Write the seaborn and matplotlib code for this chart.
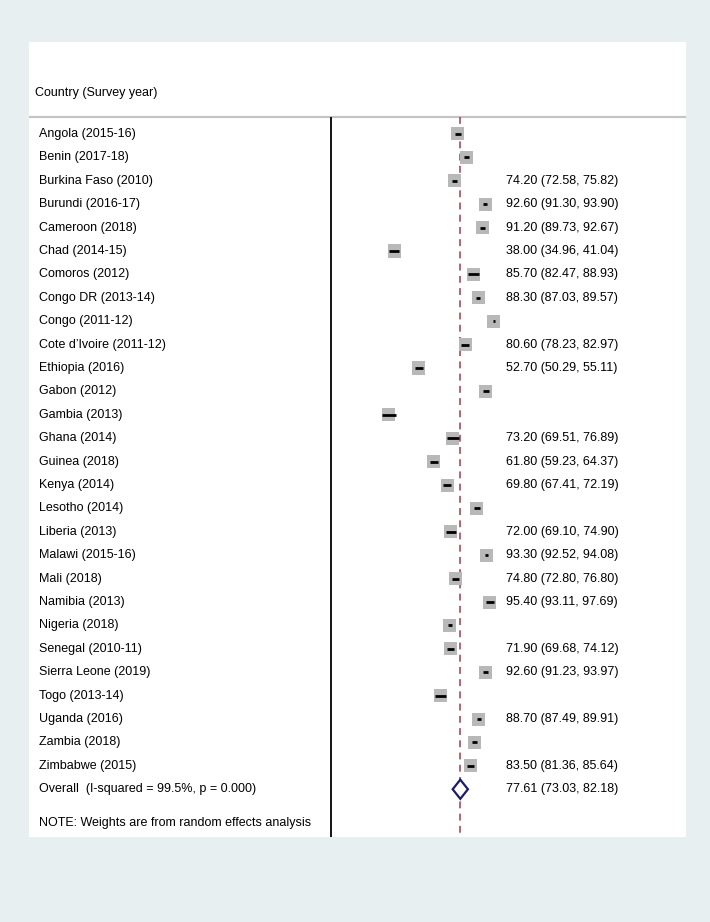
import pandas as pd
import matplotlib.pyplot as plt
import seaborn as sns

countries = [
    "Angola (2015-16)", "Benin (2017-18)", "Burkina Faso (2010)", "Burundi (2016-17)",
    "Cameroon (2018)", "Chad (2014-15)", "Comoros (2012)", "Congo DR (2013-14)",
    "Congo (2011-12)", "Cote d'Ivoire (2011-12)", "Ethiopia (2016)", "Gabon (2012)",
    "Gambia (2013)", "Ghana (2014)", "Guinea (2018)", "Kenya (2014)", "Lesotho (2014)",
    "Liberia (2013)", "Malawi (2015-16)", "Mali (2018)", "Namibia (2013)", "Nigeria (2018)",
    "Senegal (2010-11)", "Sierra Leone (2019)", "Togo (2013-14)", "Uganda (2016)",
    "Zambia (2018)", "Zimbabwe (2015)",
]
est = [76.0, 81.4, 74.20, 92.60, 91.20, 38.00, 85.70, 88.30, 97.8, 80.60, 52.70, 92.8,
       34.8, 73.20, 61.80, 69.80, 87.6, 72.00, 93.30, 74.80, 95.40, 71.4, 71.90, 92.60,
       65.6, 88.70, 86.0, 83.50]
lo = [74.2, 79.8, 72.58, 91.30, 89.73, 34.96, 82.47, 87.03, 97.0, 78.23, 50.29, 91.0,
      30.6, 69.51, 59.23, 67.41, 85.6, 69.10, 92.52, 72.80, 93.11, 70.3, 69.68, 91.23,
      62.4, 87.49, 84.4, 81.36]
hi = [77.8, 83.0, 75.82, 93.90, 92.67, 41.04, 88.93, 89.57, 98.6, 82.97, 55.11, 94.6,
      39.0, 76.89, 64.37, 72.19, 89.6, 74.90, 94.08, 76.80, 97.69, 72.5, 74.12, 93.97,
      68.8, 89.91, 87.6, 85.64]
# only some rows carry the estimate text in the source
shown = [False, False, True, True, True, True, True, True, False, True, True, False,
         False, True, True, True, False, True, True, True, True, False, True, True,
         False, True, False, True]

overall_label = "Overall  (I-squared = 99.5%, p = 0.000)"
overall_est, overall_lo, overall_hi = 77.61, 73.03, 82.18
header = "Country (Survey year)"
note = "NOTE: Weights are from random effects analysis"

df = pd.DataFrame({"country": countries, "est": est, "lo": lo, "hi": hi, "shown": shown})
df["row"] = range(len(df))
n = len(df)

sns.set_theme(style="white")
plt.rcParams["font.family"] = ["Liberation Sans", "DejaVu Sans"]
plt.rcParams["text.color"] = "black"

fig = plt.figure(figsize=(7.1, 9.22), dpi=100, facecolor="#e8eff1")
ax = fig.add_axes([29 / 710, 1 - 837 / 922, 657 / 710, 795 / 922])
ax.set_facecolor("white")

px = 1.666  # pixels per unit
ax.set_xlim(-302 / px, 355 / px)
ax.set_ylim(30.04, -3.93)

top = -0.73
ax.axhline(top, color="#c4c4c4", lw=1.6)
ax.vlines(0, top, 30.04, color="black", lw=1.3)
ax.vlines(overall_est, top, 30.04, color="#a33a45", lw=1.1, linestyles=(0, (4.5, 3.5)))

sns.scatterplot(data=df, x="est", y="row", marker="s", s=88, color="#b8b8b8",
                edgecolor="none", legend=False, ax=ax, zorder=3)
ax.hlines(df["row"], df["lo"], df["hi"], color="black", lw=2, zorder=4)

h = 0.41
ax.fill([overall_lo, overall_est, overall_hi, overall_est, overall_lo],
        [n, n - h, n, n + h, n], facecolor="white", edgecolor="#1b1b6b", lw=1.6, zorder=5)

fs = 9
lab_x = -175
txt_x = 105
ax.text(-177.5, -1.75, header, fontsize=fs, va="center", ha="left")
for _, r in df.iterrows():
    ax.text(lab_x, r["row"], r["country"].replace("'", "\u2019"), fontsize=fs, va="center")
    if r["shown"]:
        ax.text(txt_x, r["row"], f"{r['est']:.2f} ({r['lo']:.2f}, {r['hi']:.2f})",
                fontsize=fs, va="center")
ax.text(lab_x, n, overall_label, fontsize=fs, va="center")
ax.text(txt_x, n, f"{overall_est:.2f} ({overall_lo:.2f}, {overall_hi:.2f})", fontsize=fs, va="center")
ax.text(lab_x, 29.45, note, fontsize=fs, va="center")

ax.set(xticks=[], yticks=[], xlabel="", ylabel="")
sns.despine(ax=ax, left=True, bottom=True)

fig.savefig("out.png", dpi=100, facecolor=fig.get_facecolor())
